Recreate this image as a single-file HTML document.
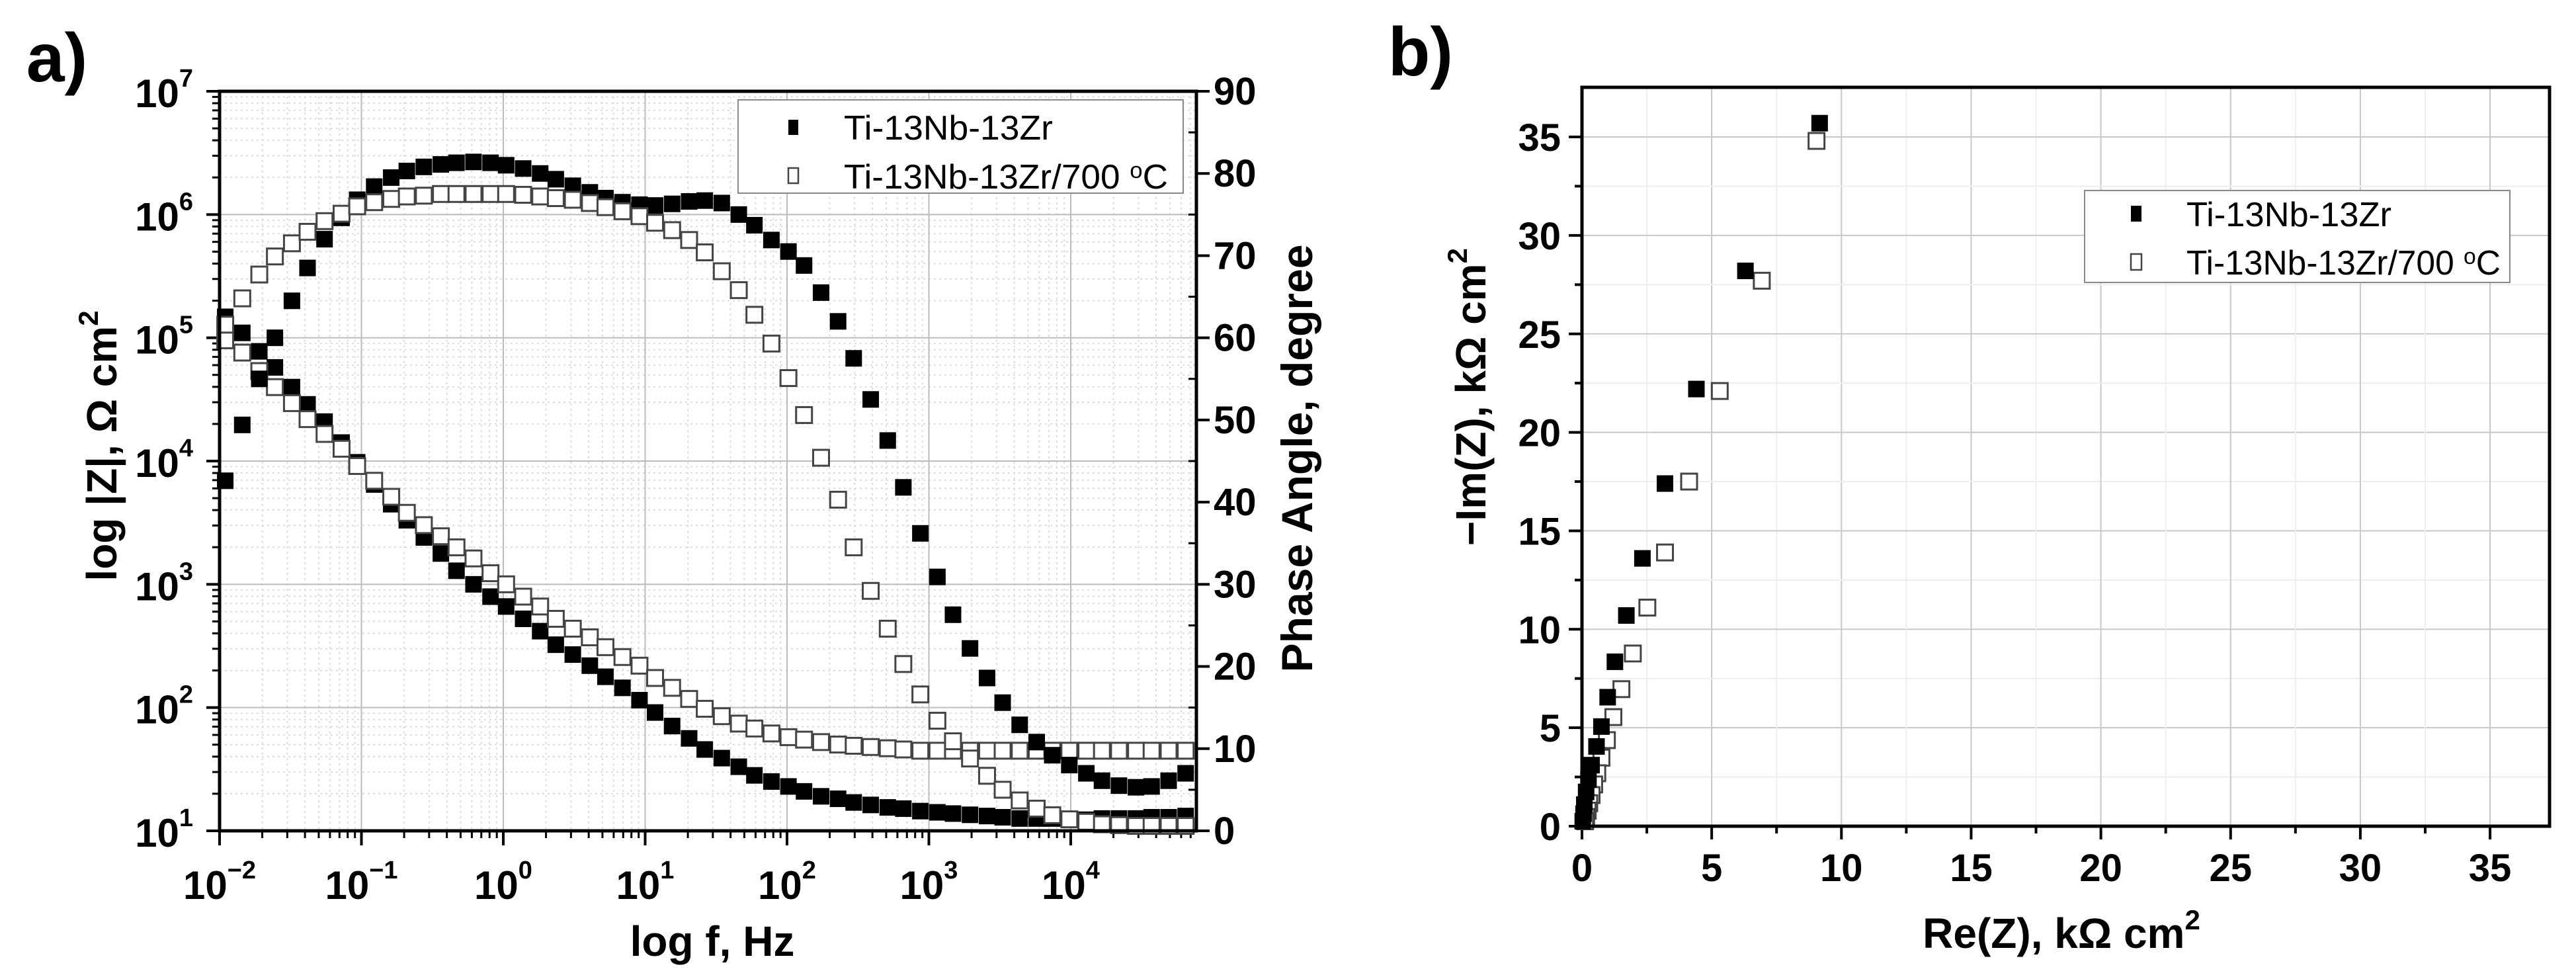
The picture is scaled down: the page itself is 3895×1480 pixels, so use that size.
<!DOCTYPE html>
<html><head><meta charset="utf-8"><style>html,body{margin:0;padding:0;background:#fff}svg{display:block}text{font-family:"Liberation Sans",sans-serif}</style></head>
<body>
<svg id="fig" width="3895" height="1480" viewBox="0 0 3895 1480" xmlns="http://www.w3.org/2000/svg">
<g id="ga"></g>
<g id="gb"></g>
</svg>
<script>
// ---- Bode data (panel a) ----
const logF = [-1.96,-1.84,-1.72,-1.61,-1.49,-1.38,-1.26,-1.14,-1.03,-0.91,-0.79,-0.68,-0.56,-0.44,-0.33,-0.21,-0.09,0.02,0.14,0.26,0.37,0.49,0.61,0.72,0.84,0.96,1.07,1.19,1.31,1.42,1.54,1.66,1.77,1.89,2.01,2.12,2.24,2.36,2.47,2.59,2.71,2.82,2.94,3.06,3.17,3.29,3.41,3.52,3.64,3.76,3.87,3.99,4.11,4.22,4.34,4.46,4.57,4.69,4.81];
const logZ1 = [5.17,5.04,4.89,4.76,4.60,4.46,4.32,4.15,3.99,3.81,3.65,3.52,3.38,3.25,3.11,3.00,2.90,2.82,2.72,2.62,2.51,2.43,2.34,2.25,2.16,2.06,1.96,1.85,1.75,1.66,1.59,1.52,1.45,1.40,1.36,1.32,1.28,1.26,1.23,1.21,1.19,1.18,1.16,1.15,1.14,1.13,1.12,1.11,1.10,1.10,1.10,1.09,1.09,1.10,1.10,1.10,1.11,1.11,1.12];
const logZ2 = [4.98,4.88,4.73,4.60,4.47,4.34,4.22,4.10,3.96,3.84,3.71,3.58,3.48,3.39,3.30,3.21,3.09,3.00,2.90,2.82,2.72,2.64,2.57,2.49,2.41,2.34,2.24,2.16,2.07,1.99,1.93,1.87,1.83,1.79,1.76,1.74,1.72,1.70,1.69,1.68,1.67,1.66,1.65,1.65,1.65,1.65,1.65,1.65,1.65,1.65,1.65,1.65,1.65,1.65,1.65,1.65,1.65,1.65,1.65];
const phase1 = [42.6,49.4,55,60,64.5,68.5,72,74.6,76.8,78.4,79.5,80.3,80.8,81.1,81.3,81.4,81.3,81.0,80.6,80.0,79.3,78.5,77.7,77.0,76.5,76.2,76.1,76.3,76.6,76.7,76.4,75.0,73.7,71.9,70.5,68.8,65.5,62,57.5,52.5,47.5,41.8,36.2,30.9,26.3,22.2,18.6,15.6,12.9,10.8,9.2,8.0,7.0,6.1,5.5,5.3,5.4,6.1,7.0];
const phase2 = [61.6,64.8,67.7,69.9,71.5,72.9,74.2,75.1,76.0,76.5,76.9,77.2,77.3,77.5,77.5,77.5,77.5,77.5,77.4,77.2,77.0,76.8,76.4,75.9,75.4,74.8,74.0,73.1,71.9,70.4,68.1,65.8,62.8,59.3,55.1,50.6,45.4,40.3,34.5,29.2,24.6,20.3,16.6,13.4,10.9,8.8,6.7,5.0,3.7,2.7,1.9,1.4,1.1,0.8,0.7,0.6,0.6,0.6,0.6];
const xTicksA = [-2,-1,0,1,2,3,4];
const yTicksA = [1,2,3,4,5,6,7];
const phaseTicks = [0,10,20,30,40,50,60,70,80,90];
// ---- Nyquist data (panel b) ----
const re1 = [9.16,6.30,4.41,3.20,2.33,1.71,1.27,0.99,0.75,0.56,0.37,0.25,0.16,0.09,0.06,0.03];
const im1 = [35.7,28.2,22.2,17.4,13.6,10.7,8.35,6.55,5.06,4.05,3.10,2.37,1.74,1.1,0.63,0.25];
const re2 = [9.04,6.93,5.31,4.13,3.20,2.52,1.96,1.52,1.21,0.96,0.75,0.59,0.47,0.37,0.28,0.22,0.16,0.12];
const im2 = [34.8,27.7,22.1,17.5,13.9,11.1,8.77,6.96,5.54,4.37,3.48,2.69,2.12,1.58,1.17,0.79,0.47,0.25];
const ticksB = [0,5,10,15,20,25,30,35];

const NS='http://www.w3.org/2000/svg';
function mk(parent,tag,attrs){const e=document.createElementNS(NS,tag);for(const k in attrs)e.setAttribute(k,attrs[k]);parent.appendChild(e);return e;}
const MS=24;

// ---------- Panel a ----------
const ga=document.getElementById('ga');
const A={l:332,r:1809,t:138,b:1256};
const xA=v=>A.l+(v+2)*214.5;
const yZ=v=>A.b-(v-1)*(A.b-A.t)/6;
const yP=v=>A.b-v*(A.b-A.t)/90;
mk(ga,'rect',{x:A.l,y:A.t,width:A.r-A.l,height:A.b-A.t,fill:'#fff'});
for(let d=-2;d<5;d++){for(let k=2;k<10;k++){const x=xA(d+Math.log10(k));if(x<A.r){mk(ga,'line',{x1:x,x2:x,y1:A.t,y2:A.b,stroke:'#ddd','stroke-width':2,'stroke-dasharray':'3,5'});mk(ga,'line',{x1:x,x2:x,y1:A.b,y2:A.b+11,stroke:'#000','stroke-width':3});}}}
for(let d=1;d<7;d++){for(let k=2;k<10;k++){const y=yZ(d+Math.log10(k));mk(ga,'line',{x1:A.l,x2:A.r,y1:y,y2:y,stroke:'#ddd','stroke-width':2,'stroke-dasharray':'3,5'});mk(ga,'line',{x1:A.l-11,x2:A.l,y1:y,y2:y,stroke:'#000','stroke-width':3});}}
xTicksA.forEach(v=>{const x=xA(v);const gl=mk(ga,'line',{x1:x,x2:x,y1:A.t,y2:A.b,stroke:'#bbb','stroke-width':2});

mk(ga,'line',{x1:x,x2:x,y1:A.b,y2:A.b+22,stroke:'#000','stroke-width':4});
const t=mk(ga,'text',{x:x,y:A.b+103,'font-size':60,'font-weight':'bold','text-anchor':'middle'});

t.innerHTML='10<tspan dy="-31" font-size="38">'+(v<0?'−'+(-v):v)+'</tspan>';});
yTicksA.forEach(v=>{const y=yZ(v);if(v>1&&v<7)mk(ga,'line',{x1:A.l,x2:A.r,y1:y,y2:y,stroke:'#bbb','stroke-width':2});
mk(ga,'line',{x1:A.l-20,x2:A.l,y1:y,y2:y,stroke:'#000','stroke-width':4});
const t=mk(ga,'text',{x:A.l-40,y:y+24,'font-size':60,'font-weight':'bold','text-anchor':'end'});

t.innerHTML='10<tspan dy="-31" font-size="38">'+v+'</tspan>';});
phaseTicks.forEach(v=>{const y=yP(v);mk(ga,'line',{x1:A.r,x2:A.r+20,y1:y,y2:y,stroke:'#000','stroke-width':4});
if(v<90)mk(ga,'line',{x1:A.r-12,x2:A.r,y1:yP(v+5),y2:yP(v+5),stroke:'#000','stroke-width':3});
const t=mk(ga,'text',{x:A.r+26,y:y+20,'font-size':58,'font-weight':'bold'});
t.textContent=v;});
function sq(g,cx,cy,filled,s){mk(g,'rect',{x:cx-s/2,y:cy-s/2,width:s,height:s,fill:filled?'#000':'#fff',stroke:filled?'#000':'#444','stroke-width':filled?1:3});}
const sZ1=mk(ga,'g',{});
const sZ2=mk(ga,'g',{});
const sP1=mk(ga,'g',{});
const sP2=mk(ga,'g',{});
logF.forEach((f,i)=>{const x=xA(f);
sq(sZ2,x,yZ(logZ2[i]),false,MS);sq(sP2,x,yP(phase2[i]),false,MS);
sq(sZ1,x,yZ(logZ1[i]),true,MS);sq(sP1,x,yP(phase1[i]),true,MS);});
mk(ga,'rect',{x:A.l,y:A.t,width:A.r-A.l,height:A.b-A.t,fill:'none',stroke:'#000','stroke-width':5});
const la=mk(ga,'g',{});
mk(la,'rect',{x:1116,y:151,width:673,height:141,fill:'#fff',stroke:'#888','stroke-width':2});
mk(la,'rect',{x:1192,y:181,width:15,height:23,fill:'#000'});
mk(la,'rect',{x:1192,y:254,width:15,height:23,fill:'#fff',stroke:'#444','stroke-width':2.5});
const lt1=mk(la,'text',{x:1276,y:211,'font-size':52,textLength:316,lengthAdjust:'spacingAndGlyphs'});lt1.textContent='Ti-13Nb-13Zr';
const lt2=mk(la,'text',{x:1276,y:285,'font-size':52,textLength:490,lengthAdjust:'spacingAndGlyphs'});lt2.innerHTML='Ti-13Nb-13Zr/700 <tspan dy="-16" font-size="34">o</tspan><tspan dy="16">C</tspan>';
let t;
t=mk(ga,'text',{x:86,y:123,'font-size':104,'font-weight':'bold','text-anchor':'middle'});t.textContent='a)';
t=mk(ga,'text',{x:1077,y:1445,'font-size':64,'font-weight':'bold','text-anchor':'middle'});t.textContent='log f, Hz';
t=mk(ga,'text',{x:0,y:0,'font-size':64,'font-weight':'bold','text-anchor':'middle',transform:'translate(176,674) rotate(-90)'});t.innerHTML='log |Z|, Ω cm<tspan dy="-28" font-size="42">2</tspan>';
t=mk(ga,'text',{x:0,y:0,'font-size':66,'font-weight':'bold','text-anchor':'middle',transform:'translate(1984,693) rotate(-90)'});t.textContent='Phase Angle, degree';

// ---------- Panel b ----------
const gb=document.getElementById('gb');
const B={l:2392,r:3855,t:132,b:1249};
const xB=v=>B.l+v*39.23;
const yB=v=>B.b-v*29.77;
for(let v=2.5;v<37.5;v+=2.5){const x=xB(v),y=yB(v);const maj=(v%5===0);
mk(gb,'line',{x1:x,x2:x,y1:B.t,y2:B.b,stroke:maj?'#c8c8c8':'#eee','stroke-width':2});
mk(gb,'line',{x1:B.l,x2:B.r,y1:y,y2:y,stroke:maj?'#c8c8c8':'#eee','stroke-width':2});
mk(gb,'line',{x1:x,x2:x,y1:B.b,y2:B.b+(maj?20:11),stroke:'#000','stroke-width':4});
mk(gb,'line',{x1:B.l-(maj?20:11),x2:B.l,y1:y,y2:y,stroke:'#000','stroke-width':4});}
mk(gb,'line',{x1:B.l,x2:B.l,y1:B.b,y2:B.b+20,stroke:'#000','stroke-width':4});
mk(gb,'line',{x1:B.l-20,x2:B.l,y1:B.b,y2:B.b,stroke:'#000','stroke-width':4});
ticksB.forEach(v=>{let t1=mk(gb,'text',{x:xB(v),y:B.b+83,'font-size':58,'font-weight':'bold','text-anchor':'middle'});t1.textContent=v;

let t2=mk(gb,'text',{x:B.l-32,y:yB(v)+21,'font-size':58,'font-weight':'bold','text-anchor':'end'});t2.textContent=v;
});
const n2=mk(gb,'g',{});
const n1=mk(gb,'g',{});
re2.forEach((v,i)=>sq(n2,xB(v),yB(im2[i]),false,MS));
re1.forEach((v,i)=>sq(n1,xB(v),yB(im1[i]),true,MS));
mk(gb,'rect',{x:B.l,y:B.t,width:B.r-B.l,height:B.b-B.t,fill:'none',stroke:'#000','stroke-width':5});
const lb=mk(gb,'g',{});
mk(lb,'rect',{x:3152,y:288,width:643,height:139,fill:'#fff',stroke:'#888','stroke-width':2});
mk(lb,'rect',{x:3222,y:311,width:16,height:24,fill:'#000'});
mk(lb,'rect',{x:3222,y:384,width:16,height:24,fill:'#fff',stroke:'#444','stroke-width':2.5});
const lb1=mk(lb,'text',{x:3306,y:342,'font-size':52,textLength:310,lengthAdjust:'spacingAndGlyphs'});lb1.textContent='Ti-13Nb-13Zr';
const lb2=mk(lb,'text',{x:3306,y:415,'font-size':52,textLength:475,lengthAdjust:'spacingAndGlyphs'});lb2.innerHTML='Ti-13Nb-13Zr/700 <tspan dy="-16" font-size="34">o</tspan><tspan dy="16">C</tspan>';
t=mk(gb,'text',{x:2148,y:114,'font-size':104,'font-weight':'bold','text-anchor':'middle'});t.textContent='b)';
t=mk(gb,'text',{x:3117,y:1433,'font-size':64,'font-weight':'bold','text-anchor':'middle'});t.innerHTML='Re(Z), kΩ cm<tspan dy="-28" font-size="42">2</tspan>';
t=mk(gb,'text',{x:0,y:0,'font-size':64,'font-weight':'bold','text-anchor':'middle',transform:'translate(2246,600) rotate(-90)'});t.innerHTML='−Im(Z), kΩ cm<tspan dy="-28" font-size="42">2</tspan>';
</script>
</body></html>
